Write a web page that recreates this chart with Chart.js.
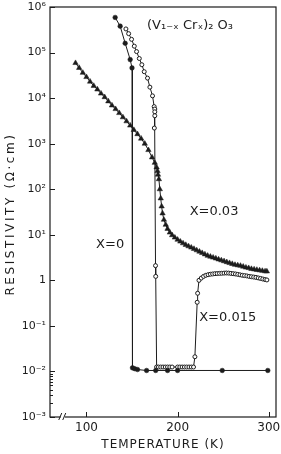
<!DOCTYPE html>
<html>
<head>
<meta charset="utf-8">
<script src="https://cdn.jsdelivr.net/npm/chart.js@4"></script>
<style>
  html, body { margin: 0; padding: 0; background: #fff; }
  #wrap { width: 281px; height: 454px; }
</style>
</head>
<body>
<div id="wrap"><canvas id="chart" width="281" height="454"></canvas></div>
<script>
// x = 0 (filled circles)
const tempX0 = [131.5, 137, 142.5, 148, 150, 150.5, 153, 156, 166, 176, 189, 200, 249, 299];
const rhoX0 = [5.9e5, 3.8e5, 1.6e5, 7e4, 4.6e4, 1.2e-2, 1.15e-2, 1.1e-2, 1.05e-2, 1.05e-2, 1.05e-2, 1.05e-2, 1.05e-2, 1.05e-2];

// x = 0.015 (open circles)
const tempX015 = [143.3, 146.3, 149.5, 152.5, 155, 158, 160.8, 163.4, 167, 169.6, 172.5, 174.3, 175, 175, 175, 174.5, 175.8, 176,
  177, 179, 181.5, 184, 186.5, 189, 191.5, 194, 200, 202.5, 205, 207.5, 210, 212.5, 215, 217.5, 219, 221.5, 222,
  223.5, 226, 228.5, 231, 233.5, 236, 238.5, 241, 243.5, 246, 248.5, 251, 253.5, 256, 258.5, 261, 263.5, 266, 268.5,
  271, 273.5, 276, 278.5, 281, 283.5, 286, 288.5, 291, 293.5, 296, 298];
const rhoX015 = [3.3e5, 2.6e5, 1.95e5, 1.38e5, 1.05e5, 7.4e4, 5.4e4, 3.8e4, 2.75e4, 1.74e4, 1.12e4, 6.5e3, 5.75e3, 5.0e3, 4.1e3, 2.2e3, 2.1, 1.22,
  1.25e-2, 1.25e-2, 1.25e-2, 1.25e-2, 1.25e-2, 1.25e-2, 1.25e-2, 1.25e-2, 1.25e-2, 1.25e-2, 1.25e-2, 1.25e-2, 1.25e-2, 1.25e-2, 1.25e-2, 1.25e-2, 2.1e-2, 0.33, 0.52,
  1.0, 1.12, 1.22, 1.29, 1.33, 1.36, 1.38, 1.40, 1.41, 1.42, 1.43, 1.44, 1.45, 1.44, 1.42, 1.40, 1.38, 1.35, 1.32,
  1.29, 1.27, 1.25, 1.22, 1.20, 1.18, 1.16, 1.13, 1.10, 1.07, 1.04, 1.02];

// x = 0.03 (filled triangles)
const tempX03 = [88, 92, 96, 100, 104, 108, 112, 116, 120, 124, 128, 132, 136, 140, 144, 148, 152, 156, 160, 164, 168, 172, 175, 177, 178, 178.5, 179.5,
  180.5, 181.5, 182.5, 183.5, 185, 187, 189, 191.5, 194, 197, 200, 203, 206, 209, 212, 215, 218, 221, 224, 227, 230, 233, 236, 239,
  242, 245, 248, 251, 254, 257, 260, 263, 266, 269, 272, 275, 278, 281, 284, 287, 290, 293, 296, 298];
const rhoX03 = [5.9e4, 4.6e4, 3.6e4, 2.9e4, 2.3e4, 1.86e4, 1.55e4, 1.26e4, 1.05e4, 8.5e3, 6.9e3, 5.75e3, 4.7e3, 3.8e3, 3.1e3, 2.5e3, 2.0e3, 1.62e3, 1.29e3, 1.0e3, 724, 500, 380, 302, 251, 209, 166,
  100, 63, 42, 29.5, 21.4, 16.6, 13.5, 11.2, 9.8, 8.7, 7.8, 7.1, 6.5, 6.0, 5.6, 5.25, 4.9, 4.57, 4.27, 3.98, 3.72, 3.47, 3.31, 3.16,
  3.02, 2.88, 2.75, 2.63, 2.51, 2.40, 2.29, 2.19, 2.14, 2.09, 2.0, 1.91, 1.86, 1.78, 1.74, 1.70, 1.66, 1.62, 1.58, 1.57];

const yTickValues = [1e-3, 1e-2, 1e-1, 1, 1e1, 1e2, 1e3, 1e4, 1e5, 1e6];
const yTickLabels = ['10⁻³', '10⁻²', '10⁻¹', '1', '10¹', '10²', '10³', '10⁴', '10⁵', '10⁶'];
const xTickValues = [100, 200, 300];
const xTickLabels = ['100', '200', '300'];

const INK = '#1c1c1c';
const FONT = '"DejaVu Sans", sans-serif';

// text written inside the plot, placed in data units
const notes = [
  { text: '(V₁₋ₓ Crₓ)₂ O₃', x: 166.5, y: 3.9e5, align: 'left' },
  { text: 'X=0.03', x: 240, y: 31.6, align: 'center' },
  { text: 'X=0', x: 126, y: 6, align: 'center' },
  { text: 'X=0.015', x: 255, y: 0.15, align: 'center' }
];

function toPoints(xs, ys) {
  return xs.map((x, i) => ({ x: x, y: ys[i] }));
}

const framePlugin = {
  id: 'frame',
  afterDraw(chart) {
    const { ctx, chartArea: a, scales } = chart;
    const xs = scales.x, ys = scales.y;
    ctx.save();
    ctx.strokeStyle = INK;
    ctx.lineWidth = 1.2;
    ctx.strokeRect(a.left, a.top, a.right - a.left, a.bottom - a.top);

    // inward tick marks
    ctx.lineWidth = 1;
    ctx.beginPath();
    yTickValues.forEach(v => {
      const py = Math.round(ys.getPixelForValue(v)) + 0.5;
      ctx.moveTo(a.left, py);
      ctx.lineTo(a.left + 5, py);
    });
    [2e-3, 3e-3, 4e-3, 5e-3, 6e-3, 7e-3, 8e-3, 9e-3].forEach(v => {
      const py = Math.round(ys.getPixelForValue(v)) + 0.5;
      ctx.moveTo(a.left, py);
      ctx.lineTo(a.left + 3, py);
    });
    xTickValues.forEach(v => {
      const px = Math.round(xs.getPixelForValue(v)) + 0.5;
      ctx.moveTo(px, a.bottom);
      ctx.lineTo(px, a.bottom - 5);
    });
    ctx.stroke();

    // axis break on the temperature axis
    const bx = xs.getPixelForValue(74);
    ctx.fillStyle = '#fff';
    ctx.fillRect(bx - 2, a.bottom - 2, 4, 4);
    ctx.beginPath();
    ctx.moveTo(bx - 4, a.bottom + 3); ctx.lineTo(bx - 1, a.bottom - 4);
    ctx.moveTo(bx, a.bottom + 3); ctx.lineTo(bx + 3, a.bottom - 4);
    ctx.stroke();

    // axis titles
    ctx.fillStyle = INK;
    ctx.textBaseline = 'middle';
    ctx.textAlign = 'center';
    ctx.font = '12px ' + FONT;
    ctx.letterSpacing = '1px';
    ctx.fillText('TEMPERATURE (K)', 163, 445);
    ctx.save();
    ctx.translate(11, (a.top + a.bottom) / 2 + 2);
    ctx.rotate(-Math.PI / 2);
    ctx.letterSpacing = '2.6px';
    ctx.fillText('RESISTIVITY (Ω·cm)', 0, 0);
    ctx.restore();

    // notes inside the plot
    ctx.letterSpacing = '0px';
    ctx.font = '13px ' + FONT;
    notes.forEach(n => {
      ctx.textAlign = n.align;
      ctx.fillText(n.text, xs.getPixelForValue(n.x), ys.getPixelForValue(n.y));
    });
    ctx.restore();
  }
};

new Chart(document.getElementById('chart'), {
  type: 'scatter',
  data: {
    datasets: [
      {
        label: 'X=0',
        data: toPoints(tempX0, rhoX0),
        showLine: true,
        borderColor: INK,
        borderWidth: 1,
        pointStyle: 'circle',
        pointRadius: 2.3,
        pointBackgroundColor: INK,
        pointBorderColor: INK,
        pointBorderWidth: 0.5
      },
      {
        label: 'X=0.015',
        data: toPoints(tempX015, rhoX015),
        showLine: true,
        borderColor: INK,
        borderWidth: 1,
        pointStyle: 'circle',
        pointRadius: 2,
        pointBackgroundColor: '#fff',
        pointBorderColor: INK,
        pointBorderWidth: 1
      },
      {
        label: 'X=0.03',
        data: toPoints(tempX03, rhoX03),
        showLine: true,
        borderColor: INK,
        borderWidth: 1,
        pointStyle: 'triangle',
        pointRadius: 3.1,
        pointBackgroundColor: INK,
        pointBorderColor: INK,
        pointBorderWidth: 0.5
      }
    ]
  },
  options: {
    responsive: false,
    animation: false,
    devicePixelRatio: 1,
    layout: { padding: { top: 7, right: 4, left: 0, bottom: 0 } },
    plugins: {
      legend: { display: false },
      tooltip: { enabled: false }
    },
    scales: {
      x: {
        type: 'linear',
        min: 60,
        max: 308,
        grid: { display: false, drawTicks: false },
        border: { display: false },
        afterBuildTicks: (s) => { s.ticks = xTickValues.map(v => ({ value: v })); },
        afterFit: (s) => { s.height = 37; s.paddingLeft = 0; s.paddingRight = 0; },
        ticks: {
          autoSkip: false,
          maxRotation: 0,
          padding: 4,
          color: INK,
          font: { family: FONT, size: 12 },
          callback: (v) => xTickLabels[xTickValues.indexOf(v)]
        }
      },
      y: {
        type: 'logarithmic',
        min: 1e-3,
        max: 1e6,
        grid: { display: false, drawTicks: false },
        border: { display: false },
        afterBuildTicks: (s) => { s.ticks = yTickValues.map(v => ({ value: v })); },
        afterFit: (s) => { s.width = 50; s.paddingTop = 0; s.paddingBottom = 0; },
        ticks: {
          autoSkip: false,
          padding: 4,
          color: INK,
          font: { family: FONT, size: 11 },
          callback: (v) => yTickLabels[yTickValues.indexOf(v)]
        }
      }
    }
  },
  plugins: [framePlugin]
});
</script>
</body>
</html>
